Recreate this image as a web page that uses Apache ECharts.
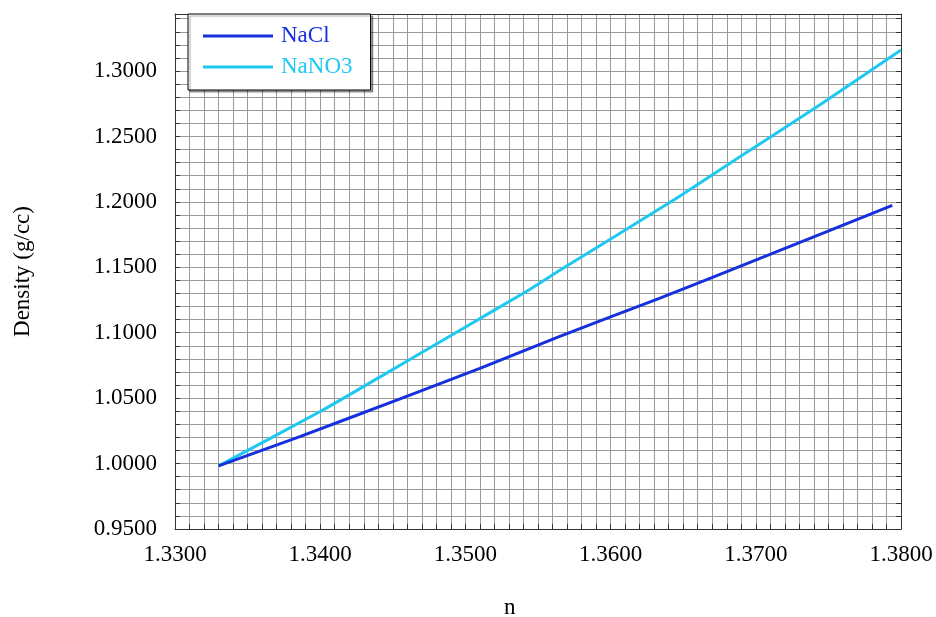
<!DOCTYPE html>
<html>
<head>
<meta charset="utf-8">
<script src="https://cdn.jsdelivr.net/npm/echarts@6/dist/echarts.min.js"></script>
<style>
  html, body { margin: 0; padding: 0; background: #fff; }
  #chart { width: 936px; height: 617px; }
</style>
</head>
<body>
<div id="chart"></div>
<script>
// Refractive index (n) vs density (g/cc) for two salt solutions
const seriesNames = ['NaCl', 'NaNO3'];
const naclN   = [1.3330, 1.3386, 1.3455, 1.3510, 1.3565, 1.3634, 1.3702, 1.3794];
const naclRho = [0.9982, 1.0206, 1.0495, 1.0727, 1.0972, 1.1265, 1.1564, 1.1974];
const nano3N   = [1.3330, 1.3400, 1.3441, 1.3493, 1.3544, 1.3565, 1.3644, 1.3689, 1.3744, 1.3800];
const nano3Rho = [0.9982, 1.0398, 1.0661, 1.0998, 1.1329, 1.1477, 1.2018, 1.2345, 1.2740, 1.3161];

const xMin = 1.33, xMax = 1.38, xStep = 0.001;
const yMin = 0.95, yMax = 1.3436, yStep = 0.01;

const colors = { NaCl: '#1530dc', NaNO3: '#1ec8f0' };
const font = 'Liberation Serif';

const pairs = (xs, ys) => xs.map((x, i) => [x, ys[i]]);

const xLabel = v => {
  const k = Math.round(v * 1000);
  return (Math.abs(v * 1000 - k) < 1e-6 && k % 10 === 0) ? v.toFixed(4) : '';
};
const yLabel = v => {
  const k = Math.round(v * 100);
  return (Math.abs(v * 100 - k) < 1e-6 && k % 5 === 0) ? v.toFixed(4) : '';
};

const gridLine = { show: true, lineStyle: { color: '#999', width: 1 } };
const axisLine = { show: true, lineStyle: { color: '#333', width: 1 } };
const tick = { show: true, inside: true, length: 5, lineStyle: { color: '#333' } };

const chart = echarts.init(document.getElementById('chart'));
chart.setOption({
  animation: false,
  backgroundColor: '#fff',
  grid: { left: 175, right: 35, top: 14, bottom: 88 },
  legend: {
    orient: 'vertical',
    left: 188, top: 14,
    data: seriesNames.map(n => ({ name: n, icon: 'rect', textStyle: { color: colors[n] } })),
    itemWidth: 70, itemHeight: 3, itemGap: 5,
    padding: [9, 18, 10, 15],
    backgroundColor: '#fff',
    borderColor: '#000', borderWidth: 1,
    shadowColor: 'rgba(0,0,0,0.35)', shadowBlur: 1, shadowOffsetX: 2, shadowOffsetY: 2,
    textStyle: { fontFamily: font, fontSize: 23, lineHeight: 26, padding: [0, 0, 0, 3] }
  },
  xAxis: [{
    type: 'value', min: xMin, max: xMax, interval: xStep,
    axisLine, axisTick: tick, splitLine: gridLine,
    axisLabel: { formatter: xLabel, fontFamily: font, fontSize: 23, color: '#000', margin: 14, showMaxLabel: true }
  }, {
    type: 'value', position: 'top', min: xMin, max: xMax, interval: xStep,
    axisLine, axisTick: { show: false }, axisLabel: { show: false }, splitLine: { show: false }
  }],
  yAxis: [{
    type: 'value', min: yMin, max: yMax, interval: yStep,
    name: 'Density (g/cc)', nameLocation: 'middle', nameGap: 141, nameRotate: 90,
    nameTextStyle: { fontFamily: font, fontSize: 23, color: '#000' },
    axisLine, axisTick: tick, splitLine: gridLine,
    axisLabel: { formatter: yLabel, fontFamily: font, fontSize: 23, color: '#000', margin: 18, showMaxLabel: false }
  }, {
    type: 'value', position: 'right', min: yMin, max: yMax, interval: yStep,
    axisLine, axisTick: tick, axisLabel: { show: false }, splitLine: { show: false }
  }],
  graphic: [{
    type: 'text', left: 504, top: 596,
    style: { text: 'n', font: '23px "Liberation Serif"', fill: '#000' }
  }],
  series: [
    {
      name: 'NaCl', type: 'line', z: 4, symbol: 'none', smooth: 0.2,
      data: pairs(naclN, naclRho),
      lineStyle: { color: colors.NaCl, width: 3 }, itemStyle: { color: colors.NaCl }
    },
    {
      name: 'NaNO3', type: 'line', z: 3, symbol: 'none', smooth: 0.2,
      data: pairs(nano3N, nano3Rho),
      lineStyle: { color: colors.NaNO3, width: 3 }, itemStyle: { color: colors.NaNO3 }
    }
  ]
});
</script>
</body>
</html>
